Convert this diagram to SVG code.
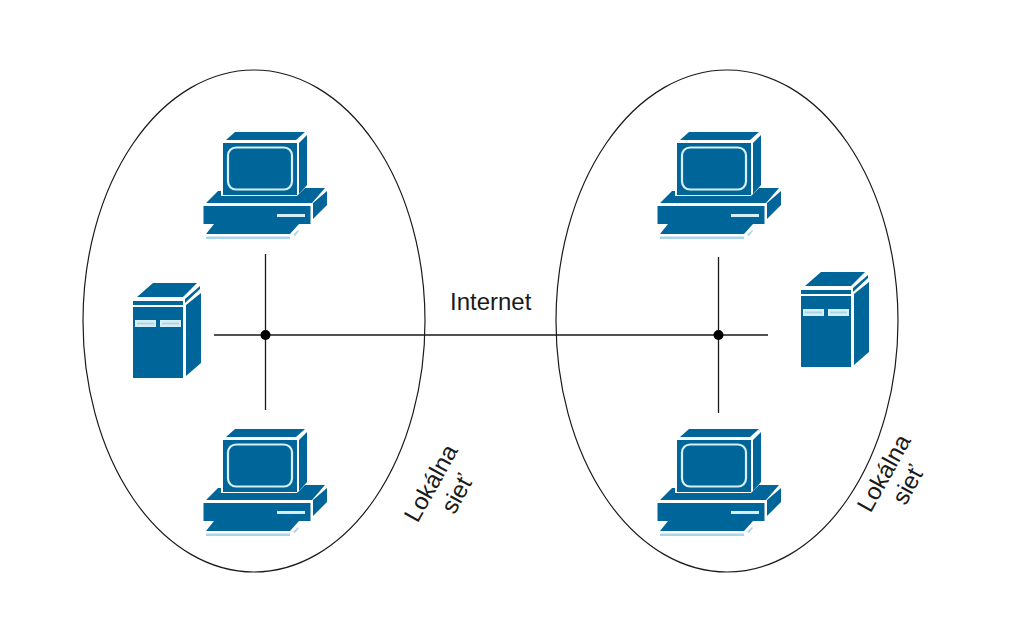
<svg xmlns="http://www.w3.org/2000/svg" xmlns:xlink="http://www.w3.org/1999/xlink" width="1024" height="625" viewBox="0 0 1024 625">
<style>
.ring{fill:none;stroke:#1a1a1a;stroke-width:1.2}
.wire{fill:none;stroke:#1a1a1a;stroke-width:1.3}
.dot{fill:#000}
.b{fill:#006699}
.l{fill:#d8eef6}
.lb{fill:#a9d6e6}
text{font-family:"Liberation Sans",Arial,sans-serif;font-size:24px;fill:#1a1a1a}
</style>
<defs>
<g id="pc">
<polygon class="b" points="226,140 235,132 305,132 296,140"/>
<rect class="b" x="223" y="143" width="74" height="52"/>
<rect x="228" y="147.500" width="64" height="42" rx="8" fill="none" stroke="#d8eef6" stroke-width="2.200"/>
<polygon class="b" points="299,143 307,135 307,185 299,194"/>
<polygon class="b" points="206,203 218,191 221,191 221,196 297,196 305,188 325,188 312,203"/>
<rect class="b" x="203.500" y="206" width="107" height="18"/>
<rect class="l" x="277" y="214" width="28" height="3"/>
<polygon class="b" points="313,203 327,191 327,205 313,219"/>
<polygon class="b" points="214,224 299,224 290,234 206,234"/>
<polygon class="lb" points="206,236.500 290,236.500 290,239 206,239"/>
<polygon class="lb" points="293,235 298,230 299,231 295,236"/>
</g>
<g id="srv">
<polygon class="b" points="137,297 153,283 197,283 183,297"/>
<rect class="b" x="133" y="301" width="50" height="4"/>
<polygon class="b" points="185,299 200,286 200,289 185,303"/>
<rect class="b" x="133" y="307" width="50" height="71"/>
<polygon class="b" points="186,305 201,293 201,363 186,376"/>
<rect class="l" x="135" y="320" width="21" height="7"/>
<rect class="lb" x="137" y="322.500" width="17" height="2"/>
<rect class="l" x="160" y="320" width="21" height="7"/>
<rect class="lb" x="162" y="322.500" width="17" height="2"/>
</g>
</defs>
<rect width="1024" height="625" fill="#fff"/>
<g id="networks">
<ellipse class="ring" cx="254" cy="321" rx="171" ry="251"/>
<ellipse class="ring" cx="727" cy="321" rx="171" ry="251"/>
</g>
<g id="connectors">
<path class="wire" d="M214 335H768M265.500 254V410M718.500 257V413"/>
<circle class="dot" cx="265.500" cy="335" r="5"/>
<circle class="dot" cx="718.500" cy="335" r="5"/>
</g>
<g id="pc-left-top"><use xlink:href="#pc" href="#pc"/></g>
<g id="pc-left-bottom"><use xlink:href="#pc" href="#pc" y="297"/></g>
<g id="pc-right-top"><use xlink:href="#pc" href="#pc" x="454"/></g>
<g id="pc-right-bottom"><use xlink:href="#pc" href="#pc" x="454" y="297"/></g>
<g id="server-left"><use xlink:href="#srv" href="#srv"/></g>
<g id="server-right"><use xlink:href="#srv" href="#srv" x="668" y="-11"/></g>
<g id="label-internet"><text x="450" y="310">Internet</text></g>
<g id="label-left"><text text-anchor="middle" transform="translate(438,487) rotate(-61)">Lokálna</text><text text-anchor="middle" transform="translate(464,498) rotate(-61)">sieť</text></g>
<g id="label-right"><text text-anchor="middle" transform="translate(891,477) rotate(-61)">Lokálna</text><text text-anchor="middle" transform="translate(915,489) rotate(-61)">sieť</text></g>
</svg>
